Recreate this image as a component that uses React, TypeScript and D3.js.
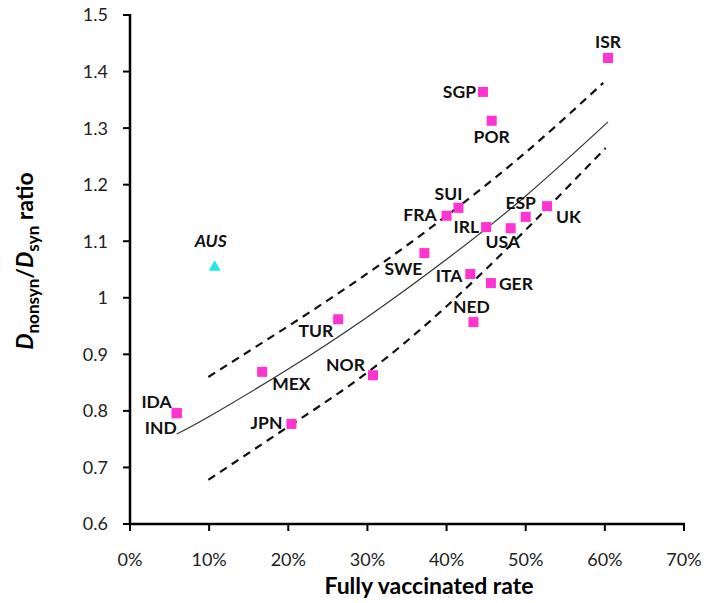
import React from 'react';
import * as d3 from 'd3';

// country points: fully vaccinated rate (fraction) vs Dnonsyn/Dsyn ratio
const countries = ['ISR', 'SGP', 'POR', 'SUI', 'FRA', 'IRL', 'USA', 'ESP', 'UK', 'SWE', 'ITA', 'GER', 'NED', 'NOR', 'TUR', 'MEX', 'JPN', 'IDA', 'IND'];
const vaccRate = [0.604, 0.446, 0.457, 0.415, 0.400, 0.450, 0.481, 0.500, 0.527, 0.372, 0.430, 0.456, 0.434, 0.307, 0.263, 0.167, 0.204, 0.059, 0.059];
const ratio = [1.424, 1.364, 1.313, 1.159, 1.145, 1.125, 1.123, 1.143, 1.162, 1.079, 1.042, 1.026, 0.957, 0.863, 0.962, 0.869, 0.777, 0.796, 0.796];

// outlier
const ausRate = 0.107;
const ausRatio = 1.054;

// fitted curve and bounds
const fitX = [0.059, 0.10, 0.20, 0.30, 0.40, 0.50, 0.604];
const fitY = [0.759, 0.790, 0.874, 0.966, 1.068, 1.180, 1.311];
const upperX = [0.099, 0.20, 0.30, 0.40, 0.50, 0.598];
const upperY = [0.860, 0.950, 1.043, 1.145, 1.257, 1.380];
const lowerX = [0.099, 0.20, 0.30, 0.40, 0.50, 0.601];
const lowerY = [0.678, 0.772, 0.868, 0.985, 1.120, 1.265];

const xTicks = [0, 0.1, 0.2, 0.3, 0.4, 0.5, 0.6, 0.7];
const yTicks = [0.6, 0.7, 0.8, 0.9, 1.0, 1.1, 1.2, 1.3, 1.4, 1.5];

// label placement around each marker: [dx, dy, anchor]
const labelPos: Record<string, [number, number, string]> = {
  ISR: [0, -10, 'middle'],
  SGP: [-7, 6, 'end'],
  POR: [0, 22, 'middle'],
  SUI: [-10, -8, 'middle'],
  FRA: [-10, 5, 'end'],
  IRL: [-7, 6, 'end'],
  USA: [-8, 20, 'middle'],
  ESP: [-5, -8, 'middle'],
  UK: [9, 17, 'start'],
  SWE: [-2, 22, 'end'],
  ITA: [-8, 8, 'end'],
  GER: [8, 7, 'start'],
  NED: [-2, -9, 'middle'],
  NOR: [-8, -4, 'end'],
  TUR: [-5, 18, 'end'],
  MEX: [10, 18, 'start'],
  JPN: [-9, 5, 'end'],
  IDA: [-5, -5, 'end'],
  IND: [0, 21, 'end'],
};

const W = 706;
const H = 603;
const FONT = 'Lato, "Open Sans", sans-serif';

const App: React.FC = () => {
  const x = d3.scaleLinear().domain([0, 0.7]).range([130, 684]);
  const y = d3.scaleLinear().domain([0.6, 1.5]).range([524, 15]);

  const line = d3.line<[number, number]>()
    .x(d => x(d[0]))
    .y(d => y(d[1]))
    .curve(d3.curveNatural);

  const zip = (a: number[], b: number[]) => a.map((v, i) => [v, b[i]] as [number, number]);

  const sq = 10;
  const tri = d3.symbol().type(d3.symbolTriangle).size(62)();

  return (
    <svg width={W} height={H} style={{ position: 'absolute', left: 0, top: 0, background: '#fff' }} fontFamily={FONT}>
      {/* fit lines */}
      <path d={line(zip(fitX, fitY)) || ''} fill="none" stroke="#333" strokeWidth={1.2} />
      <path d={line(zip(upperX, upperY)) || ''} fill="none" stroke="#111" strokeWidth={2.2} strokeDasharray="8,6" />
      <path d={line(zip(lowerX, lowerY)) || ''} fill="none" stroke="#111" strokeWidth={2.2} strokeDasharray="8,6" />

      {/* axes */}
      <line x1={x(0)} x2={x(0)} y1={y(1.5) - 1} y2={y(0.6) + 1.2} stroke="#000" strokeWidth={2.5} />
      <line x1={x(0) - 1.2} x2={x(0.7) + 1} y1={y(0.6)} y2={y(0.6)} stroke="#000" strokeWidth={2.5} />
      {yTicks.map(t => (
        <g key={'y' + t}>
          <line x1={x(0) - 7} x2={x(0)} y1={y(t)} y2={y(t)} stroke="#000" strokeWidth={2} />
          <text x={108} y={y(t)} dy="0.36em" textAnchor="end" fontSize={18} fill="#222">
            {d3.format('~g')(+t.toFixed(1))}
          </text>
        </g>
      ))}
      {xTicks.map(t => (
        <g key={'x' + t}>
          <line x1={x(t)} x2={x(t)} y1={y(0.6)} y2={y(0.6) + 7} stroke="#000" strokeWidth={2} />
          <text x={x(t)} y={566} textAnchor="middle" fontSize={18} fill="#222">
            {d3.format('.0%')(t)}
          </text>
        </g>
      ))}

      {/* axis titles */}
      <text x={429} y={594} textAnchor="middle" fontSize={23} fontWeight="bold" fill="#000">
        Fully vaccinated rate
      </text>
      <text transform="translate(33,261) rotate(-90)" textAnchor="middle" fontSize={23} fontWeight="bold" fill="#000">
        <tspan fontStyle="italic">D</tspan>
        <tspan fontSize={17} dy={6}>nonsyn</tspan>
        <tspan dy={-6}>/</tspan>
        <tspan fontStyle="italic">D</tspan>
        <tspan fontSize={17} dy={6}>syn</tspan>
        <tspan dy={-6}> ratio</tspan>
      </text>

      {/* points */}
      {countries.map((c, i) => (
        <rect key={'p' + c} x={x(vaccRate[i]) - sq / 2} y={y(ratio[i]) - sq / 2} width={sq} height={sq} fill="#ff33d2" />
      ))}
      {countries.map((c, i) => {
        const [dx, dy, anchor] = labelPos[c];
        return (
          <text key={'l' + c} x={x(vaccRate[i]) + dx} y={y(ratio[i]) + dy} textAnchor={anchor as any}
            fontSize={17.5} fontWeight="bold" fill="#111">
            {c}
          </text>
        );
      })}

      <path d={tri || ''} transform={`translate(${x(ausRate)},${y(ausRatio)})`} fill="#1ee8e8" />
      <text x={x(ausRate) - 4} y={y(ausRatio) - 20} textAnchor="middle" fontSize={17.5} fontWeight="bold" fontStyle="italic" fill="#111">
        AUS
      </text>
    </svg>
  );
};

export default App;
